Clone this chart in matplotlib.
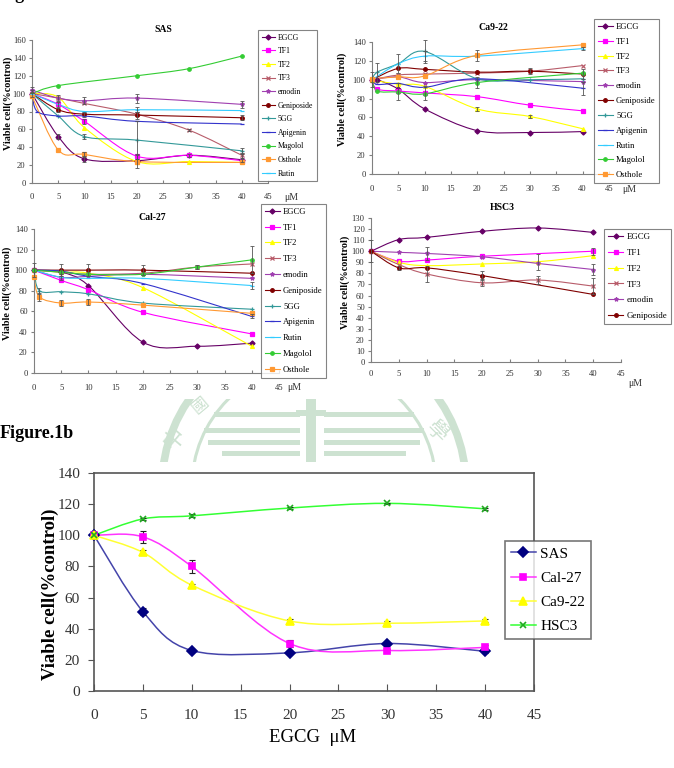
import numpy as np
import matplotlib
matplotlib.use("Agg")
import matplotlib.pyplot as plt
from matplotlib.path import Path
from matplotlib.patches import PathPatch, Circle, Rectangle
from matplotlib.lines import Line2D

plt.rcParams['font.family'] = ['Liberation Serif', 'DejaVu Serif']

W, H = 674, 768
n = np.nan

# ---- data (viable cell % of control) ----
dose = [0, 1, 5, 10, 20, 30, 40]

sas = {
    'EGCG':       [100, n, 52, 27, 25, 31, 26],
    'TF1':        [100, n, 88, 69, 30, 31, 25],
    'TF2':        [100, n, 96, 62, 24, 24, 23],
    'TF3':        [100, n, 95, 89, 77, 59, 31],
    'emodin':     [104, n, 95, 92, 95, n, 88],
    'Geniposide': [100, n, 82, 77, 76, n, 73],
    '5GG':        [100, n, 75, 52, 48, n, 36],
    'Apigenin':   [100, 80, 75, 75, 69, n, 66],
    'Magolol':    [100, n, 109, n, 120, 128, 142],
    'Osthole':    [97, n, 37, 32, 24, n, 23],
    'Rutin':      [100, n, 88, 80, 82, n, 81],
}
sas_err = {
    'EGCG': [0, 0, 3, 3, 0, 0, 0], 'TF1': [0, 0, 3, 3, 3, 2, 2],
    'emodin': [3, 0, 3, 4, 5, 0, 4], 'Geniposide': [0, 0, 2, 3, 4, 0, 3],
    '5GG': [0, 0, 0, 3, 21, 0, 3], 'Osthole': [0, 0, 0, 3, 7, 0, 0],
    'Rutin': [0, 0, 0, 0, 3, 0, 0], 'TF3': [4, 0, 0, 0, 0, 1, 3],
}

ca922 = {
    'EGCG':       [100, 100, 90, 69, 46, 44, 45],
    'TF1':        [100, 90, 88, 86, 82, 73, 67],
    'TF2':        [100, n, 95, 93, 69, 61, 48],
    'TF3':        [100, n, 105, 106, 107, 109, 115],
    'emodin':     [100, n, 103, 97, 100, n, 98],
    'Geniposide': [100, n, 112, 111, 108, 109, 106],
    '5GG':        [100, 108, 117, 130, 101, 100, 101],
    'Apigenin':   [100, 95, 96, 92, 101, n, 91],
    'Rutin':      [100, n, 117, 125, 125, n, 133],
    'Magolol':    [100, 88, 87, 85, 97, n, 107],
    'Osthole':    [101, n, 103, 104, 126, n, 137],
}
ca922_err = {
    '5GG': [8, 10, 10, 12, 0, 0, 0], 'TF1': [0, 0, 9, 7, 0, 0, 0],
    'Rutin': [0, 0, 0, 5, 0, 0, 2], 'Osthole': [0, 0, 0, 0, 6, 0, 0],
    'Geniposide': [0, 0, 0, 0, 0, 3, 5], 'Apigenin': [0, 0, 0, 0, 0, 0, 7],
    'Magolol': [0, 0, 0, 0, 6, 0, 0], 'TF2': [0, 0, 0, 0, 2, 2, 0],
}

cal27 = {
    'EGCG':       [100, n, 98, 85, 30, 26, 29],
    'TF1':        [100, n, 90, 81, 59, n, 38],
    'TF2':        [100, n, 98, 97, 83, n, 26],
    'TF3':        [100, n, 98, 96, 97, 103, 106],
    'emodin':     [100, n, 93, 94, 96, n, 92],
    'Geniposide': [100, n, 100, 100, 100, n, 97],
    '5GG':        [100, 80, 79, 77, 68, n, 62],
    'Apigenin':   [100, n, 99, 94, 87, n, 55],
    'Rutin':      [100, n, 93, 92, 92, n, 85],
    'Magolol':    [100, n, 98, 96, 96, 103, 110],
    'Osthole':    [93, 74, 68, 69, 66, n, 58],
}
cal27_err = {
    'Magolol': [0, 0, 0, 0, 0, 2, 13], '5GG': [0, 3, 0, 0, 0, 0, 0],
    'Osthole': [0, 4, 3, 3, 0, 0, 0], 'Geniposide': [7, 0, 6, 6, 5, 0, 0],
    'Apigenin': [0, 0, 0, 0, 0, 0, 2], 'Rutin': [0, 0, 0, 0, 0, 0, 3],
    'emodin': [0, 0, 3, 0, 0, 0, 0],
}

hsc3 = {
    'EGCG':       [100, n, 110.5, 112.5, 118, 121, 117],
    'TF1':        [100, n, 91, 92, 95.5, n, 100],
    'TF2':        [100, n, 90, 87, 88.5, 90.5, 96],
    'TF3':        [100, n, 88, 79.5, 71.5, 74, 68.5],
    'emodin':     [100, n, 99, 98, 95, 89, 83.5],
    'Geniposide': [100, n, 85, 85, 78, n, 61],
}
hsc3_err = {
    'EGCG': [10, 0, 0, 0, 0, 0, 0], 'TF3': [0, 0, 0, 7, 3, 4, 7],
    'emodin': [0, 0, 0, 6, 0, 0, 5], 'Geniposide': [0, 0, 2, 0, 4, 0, 0],
    'TF1': [0, 0, 0, 0, 0, 0, 3], 'TF2': [0, 0, 0, 0, 0, 7, 0],
}

# Figure 1b: EGCG on four cell lines
egcg_dose = [0, 5, 10, 20, 30, 40]
cells = ['SAS', 'Cal-27', 'Ca9-22', 'HSC3']
egcg_vals = {
    'SAS':    [100, 51, 26, 24.5, 30.5, 25.5],
    'Cal-27': [100, 99, 80, 30.5, 26, 28],
    'Ca9-22': [100, 89, 68, 45, 43.5, 45],
    'HSC3':   [100, 110.5, 112.5, 117.5, 120.5, 117],
}
egcg_errs = {
    'SAS':    [2, 2.5, 1, 1, 1, 1],
    'Cal-27': [2, 4, 4, 2, 1, 1.5],
    'Ca9-22': [1.5, 1.5, 1, 1.5, 1.5, 1],
    'HSC3':   [1, 0.5, 1, 0.5, 0.5, 0.5],
}

# ---- styles ----
sty = {
    'EGCG': ('#660066', 'D', 2.6),
    'TF1': ('#FF00FF', 's', 2.6),
    'TF2': ('#FFFF00', '^', 2.8),
    'TF3': ('#B85C6A', 'x', 2.8),
    'emodin': ('#A040B0', '*', 3.0),
    'Geniposide': ('#800000', 'o', 2.6),
    '5GG': ('#339999', '+', 3.4),
    'Apigenin': ('#3333CC', '_', 3.4),
    'Magolol': ('#33CC33', 'o', 2.5),
    'Osthole': ('#FF9933', 's', 2.6),
    'Rutin': ('#33CCFF', '_', 3.4),
}
cell_sty = {
    'SAS': ('#000080', '#4444AA', 'D', 4.6),
    'Cal-27': ('#FF00FF', '#FF33FF', 's', 5.0),
    'Ca9-22': ('#FFFF00', '#FFFF33', '^', 5.2),
    'HSC3': ('#22AA22', '#33FF33', 'x', 4.0),
}


def px_axes(fig, left, top, right, bottom):
    return fig.add_axes([left / W, 1 - bottom / H, (right - left) / W, (bottom - top) / H])


def smooth_path(x, y):
    # excel-like smoothed line: bezier through the points
    pts = np.column_stack([x, y])
    verts = [pts[0]]
    codes = [Path.MOVETO]
    m = len(pts)
    for i in range(m - 1):
        pp = pts[max(i - 1, 0)]
        p0 = pts[i]
        p1 = pts[i + 1]
        pn = pts[min(i + 2, m - 1)]
        verts += [p0 + (p1 - pp) / 6, p1 - (pn - p0) / 6, p1]
        codes += [Path.CURVE4] * 3
    return Path(verts, codes)


def fpos(x, y):
    return x / W, 1 - y / H


fig = plt.figure(figsize=(W / 100, H / 100), dpi=100)

# ---- faded seal watermark behind Figure.1b ----
bg = px_axes(fig, 0, 399, W, 462)
bg.set_xlim(0, W)
bg.set_ylim(462, 399)
bg.axis('off')
wm = '#CDE2D1'
bg.add_patch(Circle((314, 486), 152, fill=False, lw=5.5, ec=wm))
bg.add_patch(Circle((314, 486), 122, fill=False, lw=2.2, ec=wm))
for yy, x0 in [(412, 214), (428, 204), (440, 208), (451, 222)]:
    bg.add_patch(Rectangle((x0, yy), 300 - x0, 5, color=wm, lw=0))
    bg.add_patch(Rectangle((324, yy), 628 - x0 - 324, 5, color=wm, lw=0))
bg.add_patch(Rectangle((306, 399), 10, 63, color=wm, lw=0))
bg.add_patch(Rectangle((296, 410), 30, 6, color=wm, lw=0))
bg.text(175, 438, '中', color=wm, fontsize=16, rotation=50, ha='center', va='center',
        family=['Noto Sans CJK TC', 'DejaVu Sans'])
bg.text(200, 405, '國', color=wm, fontsize=12, rotation=40, ha='center', va='center',
        family=['Noto Sans CJK TC', 'DejaVu Sans'])
bg.text(437, 432, '學', color=wm, fontsize=15, rotation=-45, ha='center', va='center',
        family=['Noto Sans CJK TC', 'DejaVu Sans'])

fig.text(0, 1 + 1 / H, 'Figure.1a', fontsize=13, fontweight='bold', va='baseline')


def panel(box, data, errs, order, ymax, ystep, title, title_xy, ylab_xy, um_xy,
          leg_xy, leg_fs, leg_ls, xpad):
    ax = px_axes(fig, *box)
    for name in order:
        vals = np.array(data[name], dtype=float)
        x = np.array(dose, dtype=float)
        ok = ~np.isnan(vals)
        col, mk, ms = sty[name]
        ax.add_patch(PathPatch(smooth_path(x[ok], vals[ok]), fc='none', ec=col, lw=0.8,
                               clip_on=False, zorder=2))
        ax.plot(x[ok], vals[ok], ls='none', marker=mk, ms=ms, color=col, mec=col,
                mew=0.9, clip_on=False, zorder=3)
        if name in errs:
            e = np.array(errs[name], dtype=float)
            sel = ok & (e > 0)
            ax.errorbar(x[sel], vals[sel], yerr=e[sel], fmt='none', ecolor='#555555',
                        elinewidth=0.6, capsize=1.6, capthick=0.6, clip_on=False, zorder=4)
    ax.set_xlim(0, 45)
    ax.set_ylim(0, ymax)
    ax.set_xticks(range(0, 50, 5))
    ax.set_yticks(range(0, ymax + 1, ystep))
    for s in ['top', 'right']:
        ax.spines[s].set_visible(False)
    for s in ['left', 'bottom']:
        ax.spines[s].set_color('#808080')
        ax.spines[s].set_linewidth(0.8)
    ax.tick_params(axis='x', direction='in', length=2.5, pad=xpad, labelsize=6.2,
                   color='#808080', labelcolor='#333333')
    ax.tick_params(axis='y', direction='out', length=2.5, pad=2.0, labelsize=6.2,
                   color='#808080', labelcolor='#333333')
    ax.patch.set_alpha(0)
    handles = [Line2D([], [], color=sty[k][0], marker=sty[k][1], ms=sty[k][2], mew=0.9,
                      lw=0.8) for k in order]
    leg = ax.legend(handles, order, loc='upper left', bbox_to_anchor=fpos(*leg_xy),
                    bbox_transform=fig.transFigure, fontsize=leg_fs, frameon=True,
                    fancybox=False, edgecolor='#666666', borderaxespad=0, borderpad=0.45,
                    labelspacing=leg_ls, handlelength=1.7, handletextpad=0.4)
    leg.get_frame().set_linewidth(0.8)
    leg.set_zorder(10)
    fig.text(*fpos(*title_xy), title, fontsize=7, fontweight='bold', ha='center',
             va='center')
    fig.text(*fpos(*ylab_xy), 'Viable cell(%control)', fontsize=7.3, fontweight='bold',
             rotation=90, ha='center', va='center')
    fig.text(*fpos(*um_xy), 'μM', fontsize=7, ha='center', va='center', color='#333333')
    return ax


sas_order = ['EGCG', 'TF1', 'TF2', 'TF3', 'emodin', 'Geniposide', '5GG', 'Apigenin',
             'Magolol', 'Osthole', 'Rutin']
other_order = ['EGCG', 'TF1', 'TF2', 'TF3', 'emodin', 'Geniposide', '5GG', 'Apigenin',
               'Rutin', 'Magolol', 'Osthole']

panel((32, 40, 268, 183), sas, sas_err, sas_order, 160, 20, 'SAS', (163, 29), (8, 103),
      (291, 197), (258, 30), 5.6, 0.72, 7)
panel((372, 42, 609, 174), ca922, ca922_err, other_order, 140, 20, 'Ca9-22', (493, 28),
      (342, 99), (629, 189), (594, 19), 6.2, 0.79, 8)
panel((34, 229, 279, 373), cal27, cal27_err, other_order, 140, 20, 'Cal-27', (152, 218),
      (7, 293), (294, 388), (261, 204), 6.2, 0.9, 8)
panel((371, 218, 621, 362), hsc3, hsc3_err, list(hsc3.keys()), 130, 10, 'HSC3', (502, 208),
      (345, 282), (635, 383), (604, 229), 6.4, 0.85, 6)

# ---- Figure 1b ----
fig.text(0, 1 - 433 / H, 'Figure.1b', fontsize=13, fontweight='bold', va='center')
bx = px_axes(fig, 94, 473, 534, 691)
x = np.array(egcg_dose, dtype=float)
for c in cells:
    mcol, lcol, mk, ms = cell_sty[c]
    y = np.array(egcg_vals[c], dtype=float)
    bx.add_patch(PathPatch(smooth_path(x, y), fc='none', ec=lcol, lw=1.1, zorder=2))
    bx.errorbar(x, y, yerr=egcg_errs[c], fmt='none', ecolor='#222222', elinewidth=0.8,
                capsize=2.5, capthick=0.8, zorder=3, clip_on=False)
    bx.plot(x, y, ls='none', marker=mk, ms=ms, color=mcol, mec=mcol, mew=1.2,
            zorder=4, clip_on=False)
bx.set_xlim(0, 45)
bx.set_ylim(0, 140)
bx.set_xticks(range(0, 50, 5))
bx.set_yticks(range(0, 141, 20))
for s in bx.spines.values():
    s.set_color('#555555')
    s.set_linewidth(1.2)
bx.tick_params(axis='x', direction='in', length=5, pad=13, labelsize=11, color='#555555',
               labelcolor='#333333')
bx.tick_params(axis='y', direction='out', length=4, pad=6, labelsize=11, color='#555555',
               labelcolor='#333333')
fig.text(*fpos(50, 594), 'Viable cell(%control)', fontsize=13.5, fontweight='bold',
         rotation=90, ha='center', va='center')
fig.text(*fpos(313, 737), 'EGCG  μM', fontsize=13.5, ha='center', va='center')
bh = [Line2D([], [], color=cell_sty[c][1], marker=cell_sty[c][2], ms=cell_sty[c][3],
             mfc=cell_sty[c][0], mec=cell_sty[c][0], mew=1.2, lw=1.1) for c in cells]
bleg = bx.legend(bh, cells, loc='upper left', bbox_to_anchor=fpos(505, 541),
                 bbox_transform=fig.transFigure, fontsize=11, frameon=True, fancybox=False,
                 edgecolor='#555555', borderaxespad=0, borderpad=0.4, labelspacing=0.68,
                 handlelength=1.6, handletextpad=0.3)
bleg.get_frame().set_linewidth(1.2)

fig.savefig('out.png', dpi=100, facecolor='white')
